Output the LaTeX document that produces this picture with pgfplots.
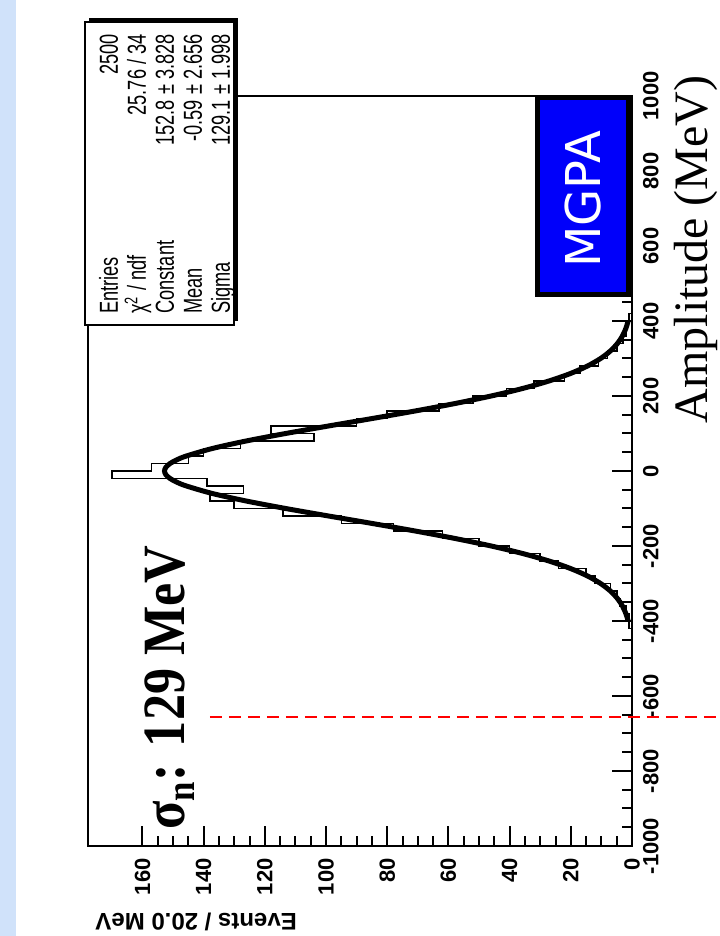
\documentclass[border=0pt]{standalone}
\usepackage{pgfplots}
\pgfplotsset{compat=1.18}
\usepackage{fontspec}
\setmainfont{Liberation Serif}
\setsansfont{Liberation Sans}
\newfontfamily\statfont[FakeStretch=0.7]{Liberation Sans}
\newfontfamily\sigfont[FakeStretch=0.87]{Liberation Serif}
\newfontfamily\tickfam{Liberation Sans}
\newfontfamily\mgpafont{DejaVu Sans}
\newcommand\tickfont{\tickfam\bfseries\fontsize{11}{13}\selectfont}
\definecolor{slideblue}{RGB}{208,226,250}
\definecolor{mgpablue}{RGB}{0,0,250}
\begin{document}
\begin{tikzpicture}[x=0.5pt,y=0.5pt,rotate=90,transform shape]
\useasboundingbox (0,0) rectangle (936,719);
\fill[slideblue] (0,703) rectangle (936,719);
\begin{axis}[
  at={(45pt,43.5pt)}, anchor=south west,
  scale only axis, width=375pt, height=272pt,
  xmin=-1000, xmax=1000, ymin=0, ymax=177.8,
  axis line style={line width=1pt},
  xtick={-1000,-800,...,1000}, ytick={0,20,...,160},
  minor x tick num=3, minor y tick num=3,
  xtick pos=left, ytick pos=left,
  tick align=inside,
  major tick length=10pt, minor tick length=5pt,
  every tick/.style={black, line width=1pt},
  /pgf/number format/assume math mode=true,
  /pgf/number format/set thousands separator={},
  ticklabel style={font=\tickfont},
  xticklabel style={yshift=-2pt},
  yticklabel style={xshift=-2.7pt},
  clip mode=individual,
]
\addplot[const plot, black, line width=0.8pt] coordinates {
(-1000,0) (-420,1) (-400,1) (-380,2) (-360,4) (-340,5) (-320,7) (-300,12)
(-280,15) (-260,24) (-240,30) (-220,40) (-200,50) (-180,62) (-160,78)
(-140,95) (-120,114) (-100,130) (-80,138) (-60,127) (-40,139) (-20,170)
(0,157) (20,145) (40,140) (60,128) (80,104) (100,118) (120,90) (140,80)
(160,63) (180,52) (200,41) (220,32) (240,22) (260,17) (280,11) (300,8)
(320,5) (340,3) (360,2) (380,2) (400,1) (420,0) (1000,0)};
\addplot[smooth, black, line width=2.5pt] coordinates {
(-400,1.26) (-380,2.01) (-360,3.13) (-340,4.76) (-320,7.08) (-300,10.27)
(-280,14.54) (-260,20.11) (-240,27.14) (-220,35.77) (-200,46.02) (-180,57.81)
(-160,70.89) (-140,84.87) (-120,99.20) (-100,113.20) (-80,126.11) (-60,137.16)
(-40,145.64) (-30,148.73) (-20,150.98) (-10,152.34) (0,152.80) (10,152.34)
(20,150.98) (30,148.73) (40,145.64) (60,137.16) (80,126.11) (100,113.20)
(120,99.20) (140,84.87) (160,70.89) (180,57.81) (200,46.02) (220,35.77)
(240,27.14) (260,20.11) (280,14.54) (300,10.27) (320,7.08) (340,4.76)
(360,3.13) (380,2.01) (400,1.26)};
\draw[red, line width=0.9pt, dash pattern=on 6pt off 3.5pt] (axis cs:-655,138) -- (axis cs:-655,-28.4);
\end{axis}
% stats box
\fill[black] (615,481) rectangle (918,630);
\draw[black, line width=0.8pt, fill=white] (611,485) rectangle (914,634);
\begin{scope}[font=\statfont\fontsize{13}{15}\selectfont]
\node[anchor=base west, inner sep=0] at (622,601) {Entries};
\node[anchor=base east, inner sep=0] at (902,601) {2500};
\node[anchor=base west, inner sep=0] at (622,573) {χ\textsuperscript{2} / ndf};
\node[anchor=base east, inner sep=0] at (902,573) {25.76 / 34};
\node[anchor=base west, inner sep=0] at (622,545) {Constant};
\node[anchor=base east, inner sep=0] at (902,545) {152.8 ± 3.828};
\node[anchor=base west, inner sep=0] at (622,517) {Mean};
\node[anchor=base east, inner sep=0] at (902,517) {-0.59 ± 2.656};
\node[anchor=base west, inner sep=0] at (622,489) {Sigma};
\node[anchor=base east, inner sep=0] at (902,489) {129.1 ± 1.998};
\end{scope}
% MGPA box
\draw[black, line width=2.5pt, fill=mgpablue] (641,91) rectangle (838,181);
\node[text=white, font=\mgpafont\fontsize{24}{24}\selectfont] at (737,136) {MGPA};
% labels
\node[rotate=90, anchor=east, inner sep=0, font=\tickfam\bfseries\fontsize{12}{14}\selectfont] at (14,624) {Events / 20.0 MeV};
\node[anchor=base east, inner sep=0, font=\fontsize{24}{26}\selectfont] at (861,12) {Amplitude (MeV)};
\node[anchor=base west, inner sep=0, font=\sigfont\bfseries\fontsize{30}{32}\selectfont] at (106,534) {σ\raisebox{-0.35ex}{\fontsize{20}{20}\selectfont n}: 129 MeV};
\end{tikzpicture}
\end{document}
